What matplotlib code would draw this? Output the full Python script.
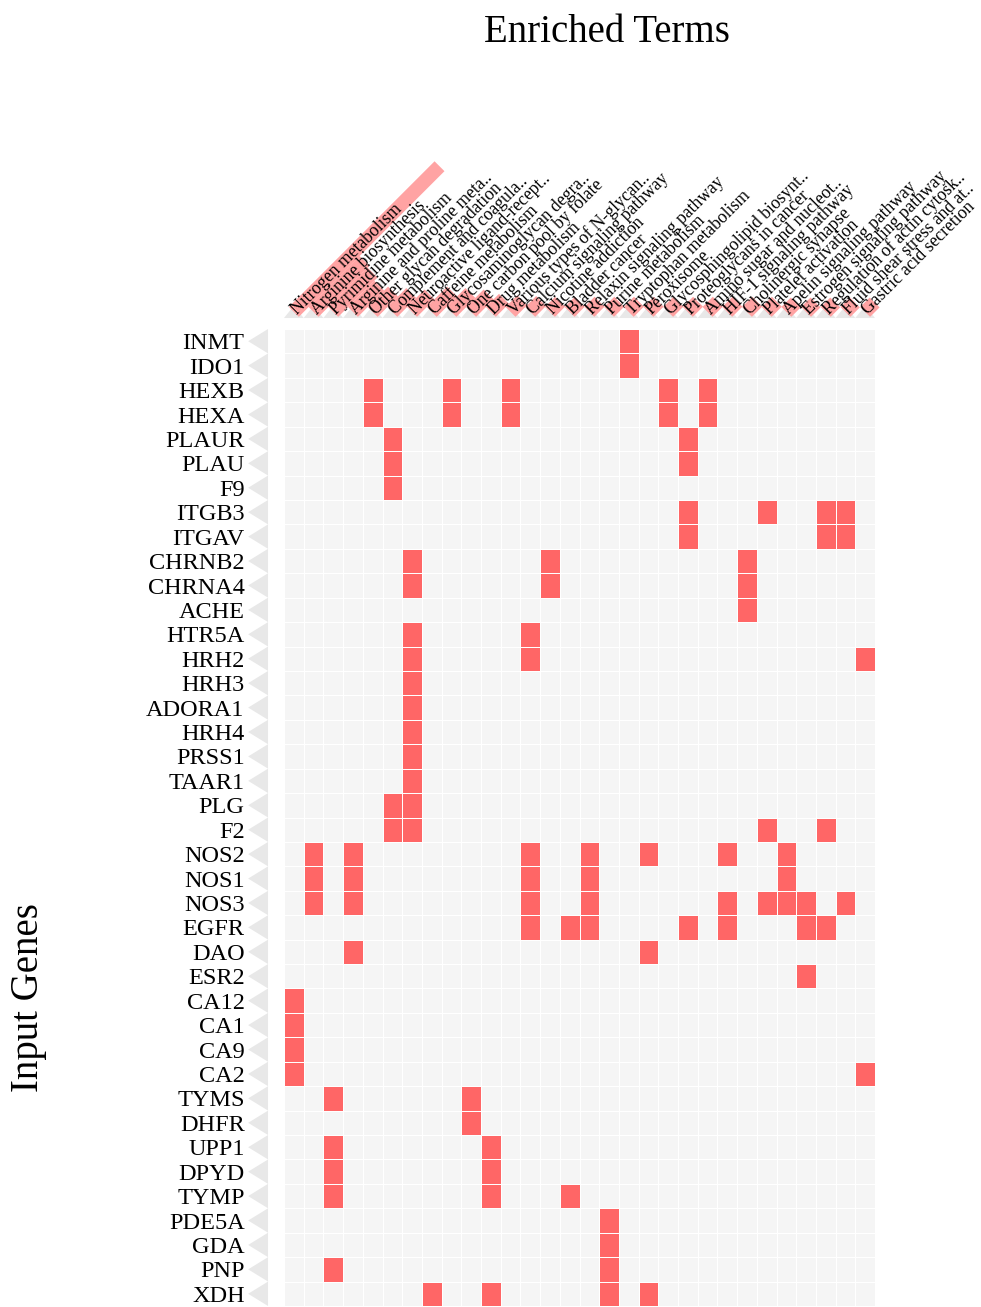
import numpy as np
import matplotlib
matplotlib.use("Agg")
import matplotlib.pyplot as plt
from matplotlib.colors import ListedColormap
from matplotlib.patches import Polygon, Rectangle
from matplotlib.transforms import Affine2D, ScaledTranslation

SERIF = ["Liberation Serif", "DejaVu Serif"]
plt.rcParams["font.family"] = SERIF

BG = "#f5f5f5"
HIT = "#ff6666"
BAND = "#ffa3a3"
ARROW = "#e8e8e8"

genes = [
    "INMT", "IDO1", "HEXB", "HEXA", "PLAUR", "PLAU", "F9", "ITGB3", "ITGAV",
    "CHRNB2", "CHRNA4", "ACHE", "HTR5A", "HRH2", "HRH3", "ADORA1", "HRH4",
    "PRSS1", "TAAR1", "PLG", "F2", "NOS2", "NOS1", "NOS3", "EGFR", "DAO",
    "ESR2", "CA12", "CA1", "CA9", "CA2", "TYMS", "DHFR", "UPP1", "DPYD",
    "TYMP", "PDE5A", "GDA", "PNP", "XDH",
]

terms = [
    "Nitrogen metabolism",
    "Arginine biosynthesis",
    "Pyrimidine metabolism",
    "Arginine and proline meta..",
    "Other glycan degradation",
    "Complement and coagula..",
    "Neuroactive ligand-recept..",
    "Caffeine metabolism",
    "Glycosaminoglycan degra..",
    "One carbon pool by folate",
    "Drug metabolism",
    "Various types of N-glycan..",
    "Calcium signaling pathway",
    "Nicotine addiction",
    "Bladder cancer",
    "Relaxin signaling pathway",
    "Purine metabolism",
    "Tryptophan metabolism",
    "Peroxisome",
    "Glycosphingolipid biosynt..",
    "Proteoglycans in cancer",
    "Amino sugar and nucleot..",
    "HIF-1 signaling pathway",
    "Cholinergic synapse",
    "Platelet activation",
    "Apelin signaling pathway",
    "Estrogen signaling pathway",
    "Regulation of actin cytosk..",
    "Fluid shear stress and at..",
    "Gastric acid secretion",
]

# relative enrichment score of each term (drawn as the band behind its label)
term_score = [100, 35, 27, 18, 14, 13, 12, 14, 13, 12, 9, 8, 7.5, 7, 7,
              7, 7, 7, 7, 7, 7, 7, 7, 7, 7, 6.5, 6.5, 6.5, 6.5, 6.5]

# indices into `terms` for every gene in `genes`
gene_terms = [
    [17], [17],
    [4, 8, 11, 19, 21], [4, 8, 11, 19, 21],
    [5, 20], [5, 20], [5],
    [20, 24, 27, 28], [20, 27, 28],
    [6, 13, 23], [6, 13, 23], [23],
    [6, 12], [6, 12, 29], [6], [6], [6], [6], [6],
    [5, 6], [5, 6, 24, 27],
    [1, 3, 12, 15, 18, 22, 25],
    [1, 3, 12, 15, 25],
    [1, 3, 12, 15, 22, 24, 25, 26, 28],
    [12, 14, 15, 20, 22, 26, 27],
    [3, 18], [26],
    [0], [0], [0], [0, 29],
    [2, 9], [9], [2, 10], [2, 10], [2, 10, 14],
    [16], [16], [2, 16], [7, 10, 16, 18],
]

W, H = 981, 1307
BAR_MAX_PX = 206
BAR_WIDTH_PX = 14

matrix = np.zeros((len(genes), len(terms)))
for r, cols in enumerate(gene_terms):
    matrix[r, cols] = 1

fig = plt.figure(figsize=(W / 100, H / 100), dpi=100)
ax = fig.add_axes([284 / W, 1 - 1306 / H, 591 / W, 977 / H])
ax.pcolormesh(matrix, cmap=ListedColormap([BG, HIT]), vmin=0, vmax=1,
              edgecolors="white", linewidth=0.6)
ax.set_xlim(0, len(terms))
ax.set_ylim(len(genes), 0)
ax.axis("off")

# row labels with the grey pointer next to the grid
for r, g in enumerate(genes):
    ax.add_patch(Polygon([(-0.81, r), (-1.82, r + 0.5), (-0.81, r + 1)],
                         closed=True, color=ARROW, lw=0, clip_on=False))
    ax.text(-2.0, r + 0.83, g, ha="right", va="baseline", fontsize=17.5,
            color="black")

# column labels: grey pointer, score band, rotated text
label_y = -0.70
top = max(term_score)
for i, (t, s) in enumerate(zip(terms, term_score)):
    ax.add_patch(Polygon([(i, -0.45), (i + 0.5, -0.95), (i + 1, -0.45)],
                         closed=True, color=ARROW, lw=0, clip_on=False))
    length = s / top * BAR_MAX_PX
    band = Rectangle((0, -BAR_WIDTH_PX / 2), length, BAR_WIDTH_PX,
                     color=BAND, lw=0, clip_on=False)
    band.set_transform(Affine2D().rotate_deg(45)
                       + ScaledTranslation(i + 0.5, label_y, ax.transData))
    ax.add_patch(band)
    ax.text(i + 0.5, label_y, t, rotation=45, rotation_mode="anchor",
            ha="left", va="center", fontsize=12.7, color="black", zorder=5,
            clip_on=False)

fig.text(607 / W, 1 - 42 / H, "Enriched Terms", ha="center", va="baseline",
         fontsize=28)
fig.text(29 / W, 1 - 998 / H, "Input Genes", ha="center", va="center",
         rotation=90, fontsize=28)

fig.savefig("out.png", dpi=100)
